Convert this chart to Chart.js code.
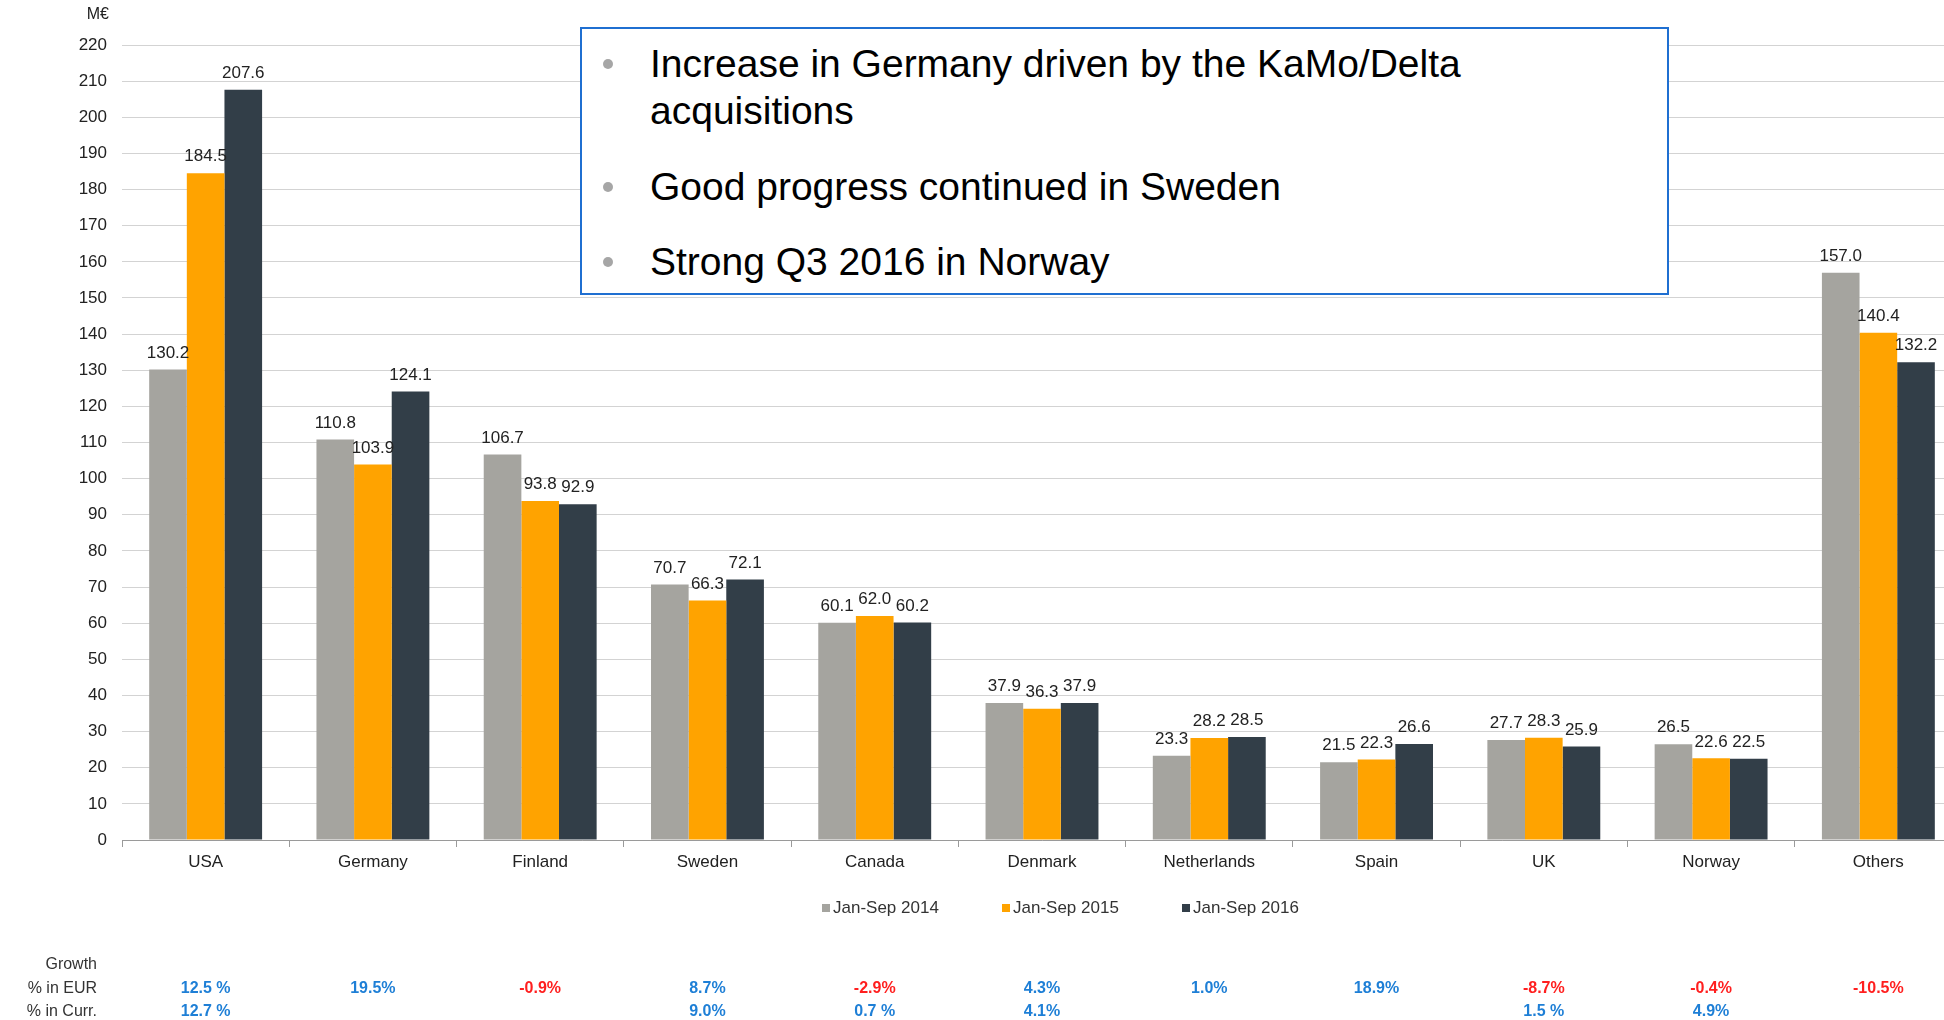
<!DOCTYPE html>
<html>
<head>
<meta charset="utf-8">
<script src="https://cdn.jsdelivr.net/npm/chart.js@4.4.0/dist/chart.umd.min.js"></script>
<style>
body{margin:0;overflow:hidden;background:#fff;font-family:"Liberation Sans",Arial,sans-serif;}
#wrap{position:absolute;left:0;top:0;width:1962px;height:1020px;}
#note{position:absolute;left:580px;top:27px;width:1085px;height:264px;border:2px solid #1f6fd1;background:#fff;}
#note .item{position:absolute;left:68px;font-size:39px;line-height:47px;color:#000;white-space:nowrap;}
#note .dot{position:absolute;left:21px;width:10px;height:10px;border-radius:50%;background:#a6a6a6;}
</style>
</head>
<body>
<div id="wrap"><canvas id="salesChart"></canvas></div>
<div id="note">
  <div class="dot" style="top:30px"></div>
  <div class="item" style="top:11px">Increase in Germany driven by the KaMo/Delta<br>acquisitions</div>
  <div class="dot" style="top:153px"></div>
  <div class="item" style="top:134px">Good progress continued in Sweden</div>
  <div class="dot" style="top:228px"></div>
  <div class="item" style="top:209px">Strong Q3 2016 in Norway</div>
</div>
<script>
var categories = ['USA','Germany','Finland','Sweden','Canada','Denmark','Netherlands','Spain','UK','Norway','Others'];
var seriesLabels = ['Jan-Sep 2014','Jan-Sep 2015','Jan-Sep 2016'];
var sales2014 = [130.2,110.8,106.7,70.7,60.1,37.9,23.3,21.5,27.7,26.5,157.0];
var sales2015 = [184.5,103.9,93.8,66.3,62.0,36.3,28.2,22.3,28.3,22.6,140.4];
var sales2016 = [207.6,124.1,92.9,72.1,60.2,37.9,28.5,26.6,25.9,22.5,132.2];
var growthEur = ['12.5 %','19.5%','-0.9%','8.7%','-2.9%','4.3%','1.0%','18.9%','-8.7%','-0.4%','-10.5%'];
var growthCurr = ['12.7 %','','','9.0%','0.7 %','4.1%','','','1.5 %','4.9%',''];
var yMin = 0, yMax = 220, yStep = 10;

var fontFam = '"Liberation Sans", Arial, sans-serif';
Chart.defaults.font.family = fontFam;
Chart.defaults.font.size = 17;
Chart.defaults.color = '#222';

// value labels, legend, unit and growth rows
var extras = {
  id:'extras',
  afterDatasetsDraw:function(chart){
    var ctx = chart.ctx;
    ctx.save();
    ctx.font = '17px ' + fontFam;
    ctx.fillStyle = '#222';
    ctx.textAlign = 'center';
    ctx.textBaseline = 'bottom';
    chart.data.datasets.forEach(function(ds,i){
      chart.getDatasetMeta(i).data.forEach(function(bar,j){
        ctx.fillText(ds.data[j].toFixed(1), bar.x, bar.y - 8);
      });
    });
    ctx.restore();
  },
  afterDraw:function(chart){
    var ctx = chart.ctx, xs = chart.scales.x;
    ctx.save();
    // unit
    ctx.font = '16px ' + fontFam;
    ctx.fillStyle = '#222';
    ctx.textAlign = 'right';
    ctx.textBaseline = 'middle';
    ctx.fillText('M€', 109, 15);
    // legend
    ctx.font = '17px ' + fontFam;
    var lx = 822;
    ctx.textAlign = 'left';
    chart.data.datasets.forEach(function(ds,i){
      ctx.fillStyle = ds.backgroundColor;
      ctx.fillRect(lx, 904, 8, 8);
      ctx.fillStyle = '#333';
      ctx.fillText(ds.label, lx + 11, 908);
      lx += 180;
    });
    // growth table
    ctx.font = '16px ' + fontFam;
    ctx.fillStyle = '#333';
    ctx.textAlign = 'right';
    ctx.fillText('Growth', 97, 965);
    ctx.fillText('% in EUR', 97, 989);
    ctx.fillText('% in Curr.', 97, 1012);
    ctx.font = 'bold 16px ' + fontFam;
    ctx.textAlign = 'center';
    categories.forEach(function(c,i){
      var x = xs.getPixelForValue(i);
      [[growthEur[i],989],[growthCurr[i],1012]].forEach(function(g){
        if(!g[0]) return;
        ctx.fillStyle = g[0].charAt(0)=='-' ? '#ff1f1f' : '#1e7fd6';
        ctx.fillText(g[0], x, g[1]);
      });
    });
    ctx.restore();
  }
};

new Chart(document.getElementById('salesChart'),{
  type:'bar',
  data:{
    labels:categories,
    datasets:[
      {label:seriesLabels[0],data:sales2014,backgroundColor:'#a5a49f'},
      {label:seriesLabels[1],data:sales2015,backgroundColor:'#ffa300'},
      {label:seriesLabels[2],data:sales2016,backgroundColor:'#323e48'}
    ]
  },
  options:{
    responsive:true,
    maintainAspectRatio:false,
    animation:false,
    layout:{padding:{top:45,right:0,left:0,bottom:0}},
    plugins:{legend:{display:false},tooltip:{enabled:false}},
    datasets:{bar:{categoryPercentage:0.675,barPercentage:1}},
    scales:{
      x:{
        grid:{drawOnChartArea:false,drawTicks:true,tickLength:7,color:'#9a9a9a'},
        border:{color:'#9a9a9a',width:1},
        ticks:{padding:5,color:'#222',font:{size:17},maxRotation:0},
        afterFit:function(s){ s.height = 180; }
      },
      y:{
        min:yMin,max:yMax,
        grid:{color:'#d3d3d3',drawTicks:false},
        border:{display:false},
        ticks:{stepSize:yStep,padding:15,color:'#222',font:{size:17}},
        afterFit:function(s){ s.width = 122; }
      }
    }
  },
  plugins:[extras]
});
</script>
</body>
</html>
